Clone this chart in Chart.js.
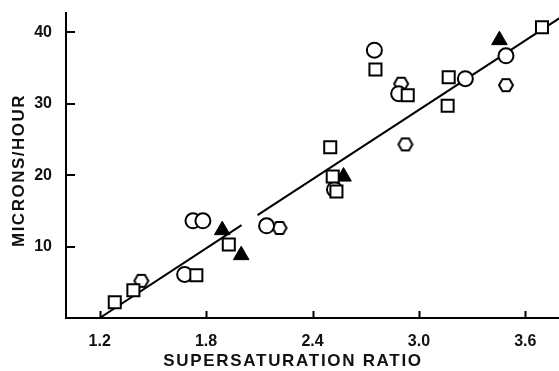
<!DOCTYPE html>
<html>
<head>
<meta charset="utf-8">
<script src="https://cdn.jsdelivr.net/npm/chart.js@4.4.1/dist/chart.umd.min.js"></script>
<style>
  html, body { margin: 0; padding: 0; background: #fff; }
  #growthChart { display: block; }
</style>
</head>
<body>
<canvas id="growthChart" width="559" height="371"></canvas>
<script>
// growth rate vs supersaturation, four groups of runs
const squareX = [1.285, 1.39, 1.745, 1.928, 2.50, 2.514, 2.535, 2.755, 2.937, 3.168, 3.162, 3.694];
const squareY = [2.2, 3.9, 6.0, 10.3, 23.9, 19.8, 17.7, 34.8, 31.2, 33.7, 29.7, 40.7];
const circleX = [1.679, 1.726, 1.782, 2.141, 2.524, 2.749, 2.886, 3.262, 3.491];
const circleY = [6.1, 13.6, 13.6, 12.9, 18.0, 37.5, 31.4, 33.5, 36.7];
const hexX = [1.435, 2.214, 2.90, 2.924, 3.491];
const hexY = [5.2, 12.6, 32.8, 24.3, 32.6];
const triX = [1.891, 1.998, 2.575, 3.454];
const triY = [12.3, 8.8, 19.8, 38.9];

// fitted line, drawn in two pieces (broken near 2.0)
const fitLowX = [1.2, 2.0];
const fitLowY = [0, 13.0];
const fitHighX = [2.09, 3.8];
const fitHighY = [14.4, 42.1];

const xTicks = [1.2, 1.8, 2.4, 3.0, 3.6];
const yTicks = [10, 20, 30, 40];

const xTitle = 'SUPERSATURATION RATIO';
const yTitle = 'MICRONS/HOUR';

const FONT = '"Liberation Sans", Arial, sans-serif';

function toPoints(xs, ys) {
    return xs.map((x, i) => ({ x: x, y: ys[i] }));
}

// open hexagon marker (flat top and bottom)
function makeHexagon(r, lw) {
    const size = Math.ceil(2 * r + lw + 2);
    const c = document.createElement('canvas');
    c.width = size;
    c.height = size;
    const g = c.getContext('2d');
    const cx = size / 2, cy = size / 2;
    g.beginPath();
    for (let i = 0; i < 6; i++) {
        const a = Math.PI / 3 * i;
        g.lineTo(cx + r * Math.cos(a), cy + r * Math.sin(a));
    }
    g.closePath();
    g.fillStyle = '#fff';
    g.fill();
    g.lineWidth = lw;
    g.strokeStyle = '#000';
    g.stroke();
    return c;
}

// short tick marks pointing into the plot
const innerTicks = {
    id: 'innerTicks',
    afterDraw(chart) {
        const ctx = chart.ctx;
        const area = chart.chartArea;
        const xs = chart.scales.x, ys = chart.scales.y;
        ctx.save();
        ctx.strokeStyle = '#000';
        ctx.lineWidth = 2;
        ctx.beginPath();
        xTicks.forEach(v => {
            const px = Math.round(xs.getPixelForValue(v)) + 0.5;
            ctx.moveTo(px, area.bottom);
            ctx.lineTo(px, area.bottom - 7);
        });
        yTicks.forEach(v => {
            const py = Math.round(ys.getPixelForValue(v));
            ctx.moveTo(area.left, py);
            ctx.lineTo(area.left + 9, py);
        });
        ctx.stroke();
        ctx.restore();
    }
};

// axis titles with a little letter spacing
const axisTitles = {
    id: 'axisTitles',
    afterDraw(chart) {
        const ctx = chart.ctx;
        const area = chart.chartArea;
        ctx.save();
        ctx.fillStyle = '#111';
        ctx.font = 'bold 17px ' + FONT;
        ctx.textAlign = 'center';
        ctx.textBaseline = 'middle';
        ctx.letterSpacing = '1.7px';
        ctx.fillText(xTitle, area.left + 227, chart.height - 10);
        ctx.translate(19, (area.top + area.bottom) / 2 + 5);
        ctx.rotate(-Math.PI / 2);
        ctx.letterSpacing = '1.5px';
        ctx.fillText(yTitle, 0, 0);
        ctx.restore();
    }
};

// drop the extra edge padding Chart.js reserves for end labels
function trimPadding(scale) {
    scale.paddingLeft = 0;
    scale.paddingRight = 0;
    scale.paddingTop = 0;
    scale.paddingBottom = 0;
}

const hexagon = makeHexagon(7, 2);

const growthChart = new Chart(document.getElementById('growthChart'), {
    type: 'scatter',
    data: {
        datasets: [
            {
                data: toPoints(squareX, squareY),
                pointStyle: 'rect',
                pointRadius: 8.5,
                pointBorderWidth: 2,
                pointBackgroundColor: '#fff',
                pointBorderColor: '#000'
            },
            {
                data: toPoints(circleX, circleY),
                pointStyle: 'circle',
                pointRadius: 7.5,
                pointBorderWidth: 2,
                pointBackgroundColor: '#fff',
                pointBorderColor: '#000'
            },
            {
                data: toPoints(hexX, hexY),
                pointStyle: hexagon
            },
            {
                data: toPoints(triX, triY),
                pointStyle: 'triangle',
                pointRadius: 9,
                pointBorderWidth: 1,
                pointBackgroundColor: '#000',
                pointBorderColor: '#000'
            },
            {
                type: 'line',
                data: toPoints(fitLowX, fitLowY),
                borderColor: '#000',
                borderWidth: 2,
                pointRadius: 0,
                fill: false
            },
            {
                type: 'line',
                data: toPoints(fitHighX, fitHighY),
                borderColor: '#000',
                borderWidth: 2,
                pointRadius: 0,
                fill: false
            }
        ]
    },
    options: {
        responsive: false,
        animation: false,
        devicePixelRatio: 1,
        layout: {
            autoPadding: false,
            padding: { top: 13, right: 0, left: 0, bottom: 0 }
        },
        plugins: {
            legend: { display: false },
            tooltip: { enabled: false }
        },
        scales: {
            x: {
                type: 'linear',
                min: 1.01,
                max: 3.79,
                afterBuildTicks: scale => { scale.ticks = xTicks.map(v => ({ value: v })); },
                afterFit: scale => { scale.height = 53; trimPadding(scale); },
                grid: { display: false, drawTicks: false },
                border: { display: true, color: '#000', width: 2 },
                ticks: {
                    color: '#111',
                    padding: 14,
                    maxRotation: 0,
                    font: { family: FONT, size: 16, weight: 'bold' },
                    callback: v => v.toFixed(1)
                }
            },
            y: {
                type: 'linear',
                min: 0,
                max: 42.7,
                afterBuildTicks: scale => { scale.ticks = yTicks.map(v => ({ value: v })); },
                afterFit: scale => { scale.width = 66; trimPadding(scale); },
                grid: { display: false, drawTicks: false },
                border: { display: true, color: '#000', width: 2 },
                ticks: {
                    color: '#111',
                    padding: 14,
                    font: { family: FONT, size: 16, weight: 'bold' }
                }
            }
        }
    },
    plugins: [innerTicks, axisTitles]
});
</script>
</body>
</html>
